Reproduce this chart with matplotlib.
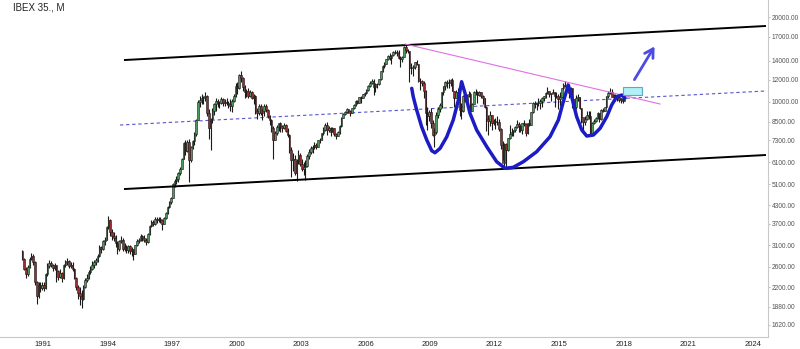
import numpy as np
import matplotlib
matplotlib.use("Agg")
import matplotlib.pyplot as plt
from matplotlib.ticker import FixedLocator, FuncFormatter, NullLocator

# IBEX 35 monthly bars, Jan 1990 .. Jan 2018 (one row per year)
closes = [
    2780, 2560, 2450, 2600, 2780, 2850, 2700, 2300, 2050, 2250, 2180, 2250,  # 1990
    2180, 2450, 2620, 2680, 2640, 2580, 2640, 2520, 2400, 2480, 2380, 2640,  # 1991
    2700, 2720, 2620, 2650, 2560, 2380, 2200, 2100, 2050, 2000, 2200, 2345,  # 1992
    2380, 2500, 2560, 2650, 2700, 2750, 2850, 3050, 3000, 3200, 3250, 3615,  # 1993
    3800, 3450, 3350, 3300, 3150, 3000, 3200, 3250, 3000, 3050, 2980, 3088,  # 1994
    2960, 3000, 2880, 3100, 3220, 3250, 3350, 3280, 3250, 3180, 3400, 3630,  # 1995
    3750, 3700, 3850, 3800, 3850, 3800, 3700, 3880, 4050, 4250, 4400, 4558,  # 1996
    5100, 5250, 5350, 5600, 5800, 6300, 7150, 6700, 7200, 6200, 6900, 7255,  # 1997
    7700, 8650, 10000, 10150, 10300, 10400, 10500, 9100, 8100, 8700, 9250, 9837,  # 1998
    10100, 9900, 9950, 10200, 9900, 10000, 9950, 9800, 9700, 10100, 10500, 11400,  # 1999
    11200, 12450, 12200, 11300, 10800, 10900, 10500, 10800, 10350, 10500, 9300, 9110,  # 2000
    9700, 9100, 9300, 9700, 9350, 8900, 8600, 8050, 7350, 7750, 8150, 8398,  # 2001
    8200, 8100, 8300, 7900, 7650, 6750, 6200, 6250, 5600, 6150, 6500, 6037,  # 2002
    5800, 5900, 5950, 6450, 6650, 6850, 6900, 7050, 6900, 7300, 7350, 7737,  # 2003
    7950, 8300, 7950, 8100, 7850, 8050, 7700, 7600, 7800, 8200, 8800, 9081,  # 2004
    9200, 9400, 9250, 9150, 9500, 9750, 10050, 9950, 10400, 10350, 10650, 10734,  # 2005
    11050, 11350, 11700, 11900, 11250, 11550, 11600, 12050, 12850, 13400, 13650, 14147,  # 2006
    14550, 14300, 14650, 15000, 15050, 14900, 14300, 14250, 14400, 15650, 15300, 15182,  # 2007
    13200, 13200, 13250, 13800, 13600, 11900, 11850, 11700, 10950, 9100, 8900, 9196,  # 2008
    8450, 7620, 7815, 9000, 9400, 9790, 10850, 11350, 11760, 11700, 11650, 11940,  # 2009
    10950, 10330, 10870, 10490, 9360, 9260, 10500, 10090, 10510, 10700, 9270, 9860,  # 2010
    10800, 10850, 10575, 10880, 10480, 10360, 9630, 8720, 8546, 8955, 8450, 8566,  # 2011
    8510, 8465, 8010, 7010, 6090, 7100, 6740, 7420, 7710, 7840, 7930, 8168,  # 2012
    8362, 8230, 7920, 8419, 8320, 7762, 8434, 8290, 9186, 9907, 9838, 9917,  # 2013
    9920, 10114, 10340, 10459, 10798, 10923, 10707, 10729, 10826, 10478, 10526, 10280,  # 2014
    10403, 11178, 11521, 11385, 11218, 10770, 11180, 10259, 9560, 10360, 10380, 9544,  # 2015
    8815, 8472, 8723, 9006, 8925, 7787, 8410, 8589, 8779, 9144, 8689, 9352,  # 2016
    9315, 9555, 10463, 10715, 10880, 10444, 10556, 10300, 10382, 10197, 10211, 10044,  # 2017
    10451,  # 2018
]
highs = [
    2990, 2800, 2600, 2650, 2830, 2920, 2880, 2720, 2320, 2300, 2300, 2300,
    2300, 2480, 2680, 2750, 2720, 2660, 2680, 2650, 2540, 2560, 2500, 2660,
    2750, 2790, 2760, 2700, 2700, 2580, 2400, 2250, 2200, 2150, 2250, 2380,
    2450, 2540, 2620, 2720, 2760, 2800, 2900, 3100, 3080, 3250, 3320, 3640,
    3940, 3850, 3550, 3450, 3380, 3200, 3250, 3350, 3300, 3150, 3100, 3120,
    3100, 3050, 3020, 3120, 3260, 3300, 3400, 3360, 3370, 3280, 3420, 3650,
    3800, 3820, 3900, 3900, 3900, 3920, 3850, 3900, 4080, 4280, 4450, 4600,
    5150, 5350, 5450, 5650, 5900, 6350, 7200, 7300, 7350, 7400, 6950, 7300,
    7800, 8700, 10150, 10500, 10700, 10500, 10860, 10600, 9400, 8800, 9500, 9900,
    10300, 10200, 10100, 10400, 10350, 10200, 10300, 10100, 10200, 10200, 10700, 11700,
    11800, 12600, 12820, 12300, 11500, 11100, 11200, 11000, 10900, 10700, 10600, 9500,
    9800, 9800, 9450, 9800, 9800, 9400, 8950, 8700, 8200, 7900, 8300, 8450,
    8500, 8250, 8450, 8350, 8100, 7700, 6900, 6600, 6500, 6250, 6750, 6600,
    6250, 6100, 6200, 6550, 6800, 7000, 7050, 7200, 7150, 7350, 7450, 7750,
    8150, 8400, 8500, 8200, 8150, 8150, 8050, 7750, 7900, 8250, 8850, 9150,
    9250, 9550, 9450, 9350, 9550, 9850, 10150, 10150, 10450, 10500, 10700, 10800,
    11150, 11450, 11850, 12100, 12100, 11700, 11700, 12100, 12900, 13500, 13900, 14250,
    14700, 14950, 14700, 15150, 15250, 15300, 15250, 14500, 14600, 15800, 15950, 15400,
    15200, 13700, 13500, 13900, 14100, 13600, 12200, 12000, 11900, 11050, 9600, 9350,
    9500, 8600, 8100, 9200, 9600, 9900, 10850, 11400, 11850, 12000, 12050, 12050,
    12150, 10950, 11000, 11200, 10600, 9900, 10550, 10600, 10650, 10900, 10800, 9950,
    10950, 11100, 10900, 10950, 10800, 10550, 10350, 9650, 8950, 9250, 9000, 8700,
    8750, 8900, 8700, 8050, 7250, 7150, 7150, 7450, 8250, 8050, 7950, 8200,
    8600, 8500, 8300, 8450, 8650, 8450, 8450, 8700, 9200, 10000, 10050, 9930,
    10350, 10200, 10400, 10500, 10800, 11250, 10950, 10750, 11150, 10850, 10800, 10700,
    10850, 11200, 11700, 11870, 11700, 11450, 11300, 11200, 10250, 10600, 10650, 10400,
    9550, 8800, 8900, 9300, 9300, 9300, 8500, 8700, 8850, 9200, 9150, 9400,
    9500, 9600, 10500, 10900, 11185, 11100, 10700, 10700, 10450, 10500, 10350, 10300,
    10650,
]
lows = [
    2760, 2530, 2380, 2420, 2580, 2750, 2650, 2250, 1920, 2020, 2120, 2150,
    2130, 2170, 2420, 2580, 2590, 2520, 2540, 2300, 2330, 2380, 2300, 2360,
    2600, 2640, 2580, 2580, 2520, 2350, 2150, 2000, 1900, 1860, 1980, 2180,
    2300, 2360, 2450, 2530, 2580, 2650, 2700, 2830, 2920, 2990, 3100, 3250,
    3550, 3350, 3250, 3200, 3050, 2900, 2950, 3150, 2950, 2950, 2920, 2920,
    2900, 2850, 2750, 2880, 3080, 3150, 3200, 3200, 3180, 3100, 3160, 3380,
    3600, 3620, 3650, 3720, 3760, 3720, 3500, 3680, 3860, 4020, 4200, 4350,
    4550, 5000, 5100, 5200, 5500, 5800, 6250, 6500, 6650, 5200, 6100, 6800,
    7050, 7600, 8600, 9600, 9800, 9800, 10100, 8900, 7400, 6780, 8400, 9000,
    9300, 9600, 9500, 9800, 9700, 9700, 9750, 9500, 9300, 9200, 10000, 10400,
    10700, 11100, 11800, 10900, 10300, 10400, 10300, 10400, 10200, 9800, 9050, 8700,
    8950, 9000, 8600, 8900, 9200, 8800, 8250, 7850, 6300, 7300, 7650, 7900,
    7850, 7800, 8000, 7800, 7500, 6600, 5400, 5700, 5500, 5250, 6000, 5950,
    5700, 5500, 5300, 5900, 6300, 6550, 6600, 6800, 6800, 6900, 7150, 7300,
    7650, 7900, 7650, 7850, 7550, 7800, 7600, 7400, 7550, 7700, 8150, 8750,
    8950, 9150, 9100, 8900, 9100, 9450, 9700, 9800, 9900, 9950, 10300, 10500,
    10650, 10950, 11300, 11550, 10600, 10800, 11200, 11450, 12000, 12800, 13200, 13600,
    14100, 14100, 13600, 14500, 14800, 14600, 14200, 13250, 13800, 14400, 14900, 14950,
    11800, 12600, 12350, 13050, 13500, 11800, 11000, 11400, 10300, 8300, 7950, 8550,
    8050, 7550, 6900, 7700, 8800, 9200, 9500, 10600, 11000, 11200, 11200, 11400,
    10900, 9600, 10300, 10400, 8900, 8670, 9200, 10000, 9950, 10450, 9200, 9300,
    9850, 10600, 9900, 10500, 10300, 9800, 9500, 7900, 7640, 8200, 7950, 8250,
    8000, 8300, 7900, 6800, 6200, 5950, 5900, 6700, 7400, 7550, 7600, 7850,
    8100, 7850, 7800, 7700, 8200, 7550, 7700, 8200, 8250, 9150, 9550, 9350,
    9700, 9400, 9600, 10100, 10300, 10700, 10400, 10050, 10650, 9600, 10300, 9400,
    9650, 10300, 11000, 11300, 10900, 10300, 10350, 9500, 9200, 9400, 10050, 9450,
    8450, 7750, 8300, 8600, 8700, 7580, 7800, 8350, 8500, 8700, 8500, 8600,
    9200, 9300, 9550, 10300, 10650, 10400, 10350, 10050, 10100, 10000, 9950, 9950,
    10050,
]
first_open = 2950
start_year = 1990

# hand drawn annotations (year, value)
upper_channel = ([1994.81, 2024.58], [14080, 18580])
lower_channel = ([1994.81, 2024.58], [4911, 6480])
mid_line = ([1994.58, 2024.58], [8279, 10930])
down_trend = ([2007.84, 2019.70], [16040, 9830])
hs_years = [2008.15, 2008.22, 2008.38, 2008.61, 2008.85, 2009.08, 2009.23, 2009.47,
            2009.78, 2010.08, 2010.32, 2010.47, 2010.63, 2010.86, 2011.17, 2011.64,
            2012.10, 2012.49, 2012.87, 2013.34, 2013.96, 2014.58, 2014.97, 2015.20,
            2015.43, 2015.59, 2015.82, 2016.06, 2016.29, 2016.60, 2016.91, 2017.22,
            2017.45, 2017.68, 2017.92, 2018.07]
hs_values = [11172, 10433, 9359, 8166, 7325, 6713, 6604, 6846,
             7524, 8627, 10155, 11792, 10724, 9110, 7949, 6936,
             6137, 5815, 5861, 6137, 6659, 7524, 8627, 10016,
             11478, 10433, 8862, 7949, 7568, 7631, 8060, 8862,
             9750, 10433, 10578, 10323]
target_box = ([2017.96, 2018.85], [10578, 11322])
arrow_from = (2018.44, 11763)
arrow_to = (2019.51, 16040)

y_ticks = [1620, 1880, 2200, 2600, 3100, 3700, 4300, 5100, 6100, 7300,
           8500, 10000, 12000, 14000, 17000, 20000]
x_ticks = [1991, 1994, 1997, 2000, 2003, 2006, 2009, 2012, 2015, 2018, 2021, 2024]

closes = np.array(closes, dtype=float)
highs = np.array(highs, dtype=float)
lows = np.array(lows, dtype=float)
opens = np.concatenate([[first_open], closes[:-1]])
x = start_year + (np.arange(len(closes)) + 0.5) / 12

fig = plt.figure(figsize=(8, 3.49), dpi=100)
ax = fig.add_axes([0, 12 / 349, 768 / 800, 337 / 349])
ax.set_yscale("log")

up = closes >= opens
ax.vlines(x, lows, highs, color="#1a1a1a", lw=0.8, zorder=3)
ax.bar(x[up], closes[up] - opens[up], bottom=opens[up], width=0.075,
       color="#4e9a5c", edgecolor="#1a1a1a", lw=0.4, zorder=4)
ax.bar(x[~up], opens[~up] - closes[~up], bottom=closes[~up], width=0.075,
       color="#9a2c30", edgecolor="#1a1a1a", lw=0.4, zorder=4)

ax.plot(*upper_channel, color="black", lw=1.4, zorder=5)
ax.plot(*lower_channel, color="black", lw=1.4, zorder=5)
ax.plot(*mid_line, color="#5656cc", lw=0.8, dashes=(3, 2.5), zorder=2)
ax.plot(*down_trend, color="#e070e0", lw=0.8, zorder=5)
ax.plot(hs_years, hs_values, color="#1c1cc4", lw=2.5, solid_capstyle="round",
        solid_joinstyle="round", zorder=6)

bx, by = target_box
ax.fill([bx[0], bx[1], bx[1], bx[0]], [by[0], by[0], by[1], by[1]],
        facecolor="#b0f0f6", edgecolor="#5aa8cc", lw=0.8, zorder=6)
ax.annotate("", xy=arrow_to, xytext=arrow_from,
            arrowprops=dict(arrowstyle="->,head_length=0.6,head_width=0.35",
                            color="#4c4ce2", lw=2.0), zorder=7)

ax.set_xlim(1989.0, 2024.72)
ax.set_ylim(1467, 22980)

ax.yaxis.tick_right()
ax.yaxis.set_major_locator(FixedLocator(y_ticks))
ax.yaxis.set_minor_locator(NullLocator())
ax.yaxis.set_major_formatter(FuncFormatter(lambda v, p: f"{v:.2f}"))
ax.set_xticks(x_ticks)
ax.set_xticklabels([str(t) for t in x_ticks])

for s in ["top", "left"]:
    ax.spines[s].set_visible(False)
for s in ["right", "bottom"]:
    ax.spines[s].set_color("#c8c8c8")
    ax.spines[s].set_linewidth(0.8)

ax.tick_params(axis="y", which="major", length=1.5, width=0.5, color="#aaaaaa",
               labelsize=4.8, labelcolor="#555555", pad=1)
ax.tick_params(axis="x", length=0, labelsize=5.5, labelcolor="#222222", pad=3)
for lab in ax.get_xticklabels() + ax.get_yticklabels():
    lab.set_family("Liberation Sans")

fig.text(13 / 800, 1 - 2 / 349, "IBEX 35., M", fontsize=7, color="#222222",
         family="Liberation Sans", va="top", ha="left")

fig.savefig("out.png", dpi=100, facecolor="white")
